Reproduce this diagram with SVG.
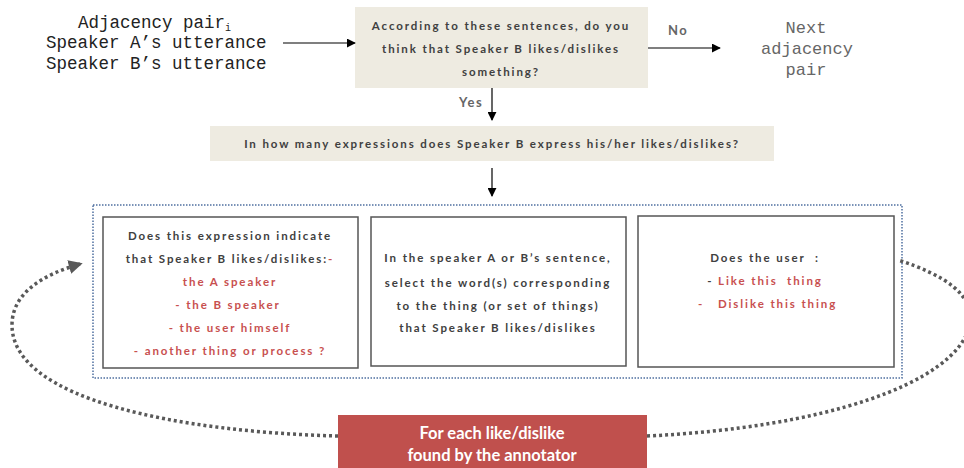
<svg xmlns="http://www.w3.org/2000/svg" width="964" height="468" viewBox="0 0 964 468">
<defs>
<marker id="ah" viewBox="0 0 10 10" refX="9" refY="5" markerWidth="9" markerHeight="9" markerUnits="userSpaceOnUse" orient="auto">
<path d="M0,0 L10,5 L0,10 z" fill="#000"/>
</marker>
<marker id="ahd" viewBox="0 0 10 10" refX="8" refY="5" markerWidth="4" markerHeight="4" orient="auto">
<path d="M0,0 L10,5 L0,10 z" fill="#595959"/>
</marker>
<style>
.mono{font-family:"Liberation Mono","Courier New",monospace;font-size:17.5px;fill:#222}
.next{font-family:"Liberation Mono","Courier New",monospace;font-size:17px;fill:#666;text-anchor:middle}
.b{font-family:Lato,"Liberation Sans",sans-serif;font-weight:bold;font-size:11.5px;letter-spacing:1.9px;fill:#404040;text-anchor:middle}
.r{fill:#C8504F}
.beige{fill:#EEEBE1}
.inner{fill:#fff;stroke:#555;stroke-width:1.5}
.conn{stroke:#000;stroke-width:1.2;fill:none}
.dots{stroke:#595959;stroke-width:3.5;stroke-dasharray:3 3;fill:none}
.lab{font-family:Lato,"Liberation Sans",sans-serif;font-weight:bold;font-size:13px;letter-spacing:1.5px;fill:#666}
.wt{font-family:Lato,"Liberation Sans",sans-serif;font-weight:bold;font-size:16.5px;fill:#fff;text-anchor:middle}
</style>
</defs>

<g id="input">
<text class="mono" x="78" y="28">Adjacency pair<tspan font-size="10" dy="3">i</tspan></text>
<text class="mono" x="46" y="48">Speaker A’s utterance</text>
<text class="mono" x="46" y="69">Speaker B’s utterance</text>
</g>

<g id="question1">
<rect class="beige" x="355" y="7" width="293" height="81"/>
<text class="b" x="501" y="30">According to these sentences, do you</text>
<text class="b" x="501" y="53">think that Speaker B likes/dislikes</text>
<text class="b" x="501" y="76">something?</text>
</g>

<g id="next">
<text class="next" x="806" y="33">Next</text>
<text class="next" x="807" y="54">adjacency</text>
<text class="next" x="806" y="75">pair</text>
</g>

<g id="question2">
<rect class="beige" x="210" y="126" width="564" height="35"/>
<text class="b" x="492" y="148">In how many expressions does Speaker B express his/her likes/dislikes?</text>
</g>

<g id="group">
<rect x="93" y="205" width="809" height="173" fill="none" stroke="#4F6FA0" stroke-width="1.5" stroke-dasharray="1.5 1.5"/>
</g>

<g id="box1">
<rect class="inner" x="103" y="217" width="255" height="151"/>
<text class="b" x="230" y="240">Does this expression indicate</text>
<text class="b" x="230" y="263">that Speaker B likes/dislikes:<tspan class="r">-</tspan></text>
<text class="b r" x="230" y="286">the A speaker</text>
<text class="b r" x="228" y="309">- the B speaker</text>
<text class="b r" x="230" y="332">- the user himself</text>
<text class="b r" x="230" y="355">- another thing or process ?</text>
</g>

<g id="box2">
<rect class="inner" x="371" y="217" width="255" height="149"/>
<text class="b" x="498" y="262">In the speaker A or B’s sentence,</text>
<text class="b" x="498" y="287">select the word(s) corresponding</text>
<text class="b" x="498" y="310">to the thing (or set of things)</text>
<text class="b" x="498" y="332">that Speaker B likes/dislikes</text>
</g>

<g id="box3">
<rect class="inner" x="638" y="216" width="256" height="151"/>
<text class="b" x="765" y="262" xml:space="preserve">Does the user  :</text>
<text class="b" x="765" y="285" xml:space="preserve">- <tspan class="r">Like this  thing</tspan></text>
<text class="b r" x="698" y="308" style="text-anchor:start">-</text>
<text class="b r" x="718" y="308" style="text-anchor:start">Dislike this thing</text>
</g>

<g id="loop">
<rect x="338" y="415" width="309" height="60" fill="#C0504D"/>
<text class="wt" x="492" y="439">For each like/dislike</text>
<text class="wt" x="492" y="461">found by the annotator</text>
</g>

<g id="connectors">
<line class="conn" x1="283" y1="43" x2="355" y2="43" marker-end="url(#ah)"/>
<line class="conn" x1="648" y1="48" x2="720" y2="48" marker-end="url(#ah)"/>
<text class="lab" x="668" y="35">No</text>
<line class="conn" x1="492" y1="88" x2="492" y2="120" marker-end="url(#ah)"/>
<text class="lab" x="459" y="107">Yes</text>
<line class="conn" x1="492" y1="168" x2="492" y2="196" marker-end="url(#ah)"/>
<path class="dots" d="M338,436 C180,432 12,400 12,325 C12,292 45,274 80,264" marker-end="url(#ahd)"/>
<path class="dots" d="M647,436 C820,428 955,385 970,325 C975,295 945,275 898,260"/>
</g>
</svg>
